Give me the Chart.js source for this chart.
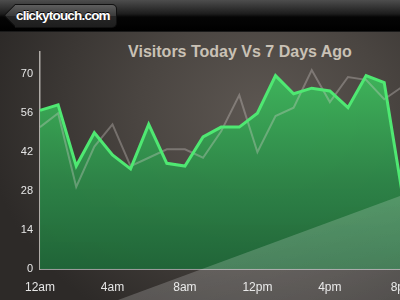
<!DOCTYPE html>
<html>
<head>
<meta charset="utf-8">
<script src="https://cdn.jsdelivr.net/npm/chart.js@4/dist/chart.umd.min.js"></script>
<style>
  html, body { margin: 0; padding: 0; }
  body { width: 400px; height: 300px; overflow: hidden; position: relative;
    font-family: "Liberation Sans", Arial, sans-serif;
    background: radial-gradient(ellipse 70% 80% at 66% 38%, #5d5752 0%, #4a4541 45%, #2d2a28 100%); }
  #bar { position: absolute; left: 0; top: 0; width: 400px; height: 31px;
    background: linear-gradient(#4d4d4d 0%, #1c1c1c 45%, #050505 55%, #000 100%);
    border-bottom: 1px solid #1a1a1a; }
  #back { position: absolute; left: 15px; top: 4px; width: 101px; height: 22px;
    border-radius: 0 5px 5px 0; border: 1px solid #111; border-left: none;
    background: linear-gradient(#5e5e5e 0%, #3a3a3a 50%, #262626 51%, #1e1e1e 100%);
    color: #fff; font-weight: bold; font-size: 13.5px; letter-spacing: -0.8px; line-height: 22px; }
  #arrow { position: absolute; left: 7px; top: 7px; width: 15.5px; height: 15.5px;
    transform: rotate(45deg); border: 1px solid #111; border-right: none; border-top: none;
    border-radius: 0 0 0 3px;
    background: linear-gradient(135deg, #5e5e5e 0%, #3a3a3a 50%, #262626 51%, #1e1e1e 100%); }
  #back span { position: absolute; left: 1px; top: 0; text-shadow: 0 -1px 0 #000; }
  #title { position: absolute; left: 0; width: 480px; top: 43px; text-align: center;
    color: #c9c1b5; font-weight: bold; font-size: 16px; }
  #wrap { position: absolute; left: 0; top: 32px; width: 425px; height: 268px; }
  #glare { position: absolute; left: 0; top: 0; width: 400px; height: 300px; pointer-events: none;
    clip-path: polygon(118px 300px, 400px 196px, 400px 300px);
    background: linear-gradient(160deg, rgba(255,255,255,0.30), rgba(255,255,255,0.16)); }
</style>
</head>
<body>
<div id="bar"><div id="arrow"></div><div id="back"><span>clickytouch.com</span></div></div>
<div id="title">Visitors Today Vs 7 Days Ago</div>
<div id="wrap"><canvas id="chart" width="425" height="268"></canvas></div>
<div id="glare"></div>
<script>
const hours = ['12am', '1am', '2am', '3am', '4am', '5am', '6am', '7am', '8am', '9am', '10am', '11am',
  '12pm', '1pm', '2pm', '3pm', '4pm', '5pm', '6pm', '7pm', '8pm']
const today = [57, 59, 37, 49, 41, 36, 52, 38, 37, 47.5, 51, 51, 56, 69.5, 63, 65, 64, 58, 69.5, 67, 27]
const weekAgo = [51, 56, 29.5, 44, 52, 37, 40, 43, 43, 40, 49.5, 62.5, 42, 55, 58, 71.5, 60, 69, 68, 61, 65.5]
const yTicks = [0, 14, 28, 42, 56, 70]

const ctx = document.getElementById('chart').getContext('2d')

new Chart(ctx, {
  type: 'line',
  data: {
    labels: hours,
    datasets: [{
      label: 'Today',
      data: today,
      borderColor: '#4fe872',
      borderWidth: 3,
      pointRadius: 0,
      tension: 0,
      fill: 'origin',
      backgroundColor: (c) => {
        const area = c.chart.chartArea
        if (!area) return 'rgba(50,150,80,0.95)'
        const g = c.chart.ctx.createLinearGradient(0, area.top + 20, 0, area.bottom)
        g.addColorStop(0, 'rgba(62,186,92,0.95)')
        g.addColorStop(0.55, 'rgba(45,135,72,0.95)')
        g.addColorStop(1, 'rgba(32,102,56,0.97)')
        return g
      }
    }, {
      label: '7 Days Ago',
      data: weekAgo,
      borderColor: 'rgba(215,210,205,0.33)',
      borderWidth: 2,
      pointRadius: 0,
      tension: 0,
      fill: false
    }]
  },
  options: {
    responsive: false,
    animation: false,
    layout: { padding: { top: 20, right: 20, left: 0, bottom: 0 } },
    plugins: {
      legend: { display: false },
      tooltip: { enabled: false },
      filler: { drawTime: 'beforeDatasetsDraw' }
    },
    scales: {
      x: {
        grid: { display: false, drawTicks: false },
        border: { display: true, color: '#9a9a9a', width: 2 },
        afterFit: (s) => { s.height = 31 },
        ticks: {
          autoSkip: false,
          maxRotation: 0,
          padding: 11,
          color: '#e6e6e6',
          font: { family: 'Liberation Sans', size: 12 },
          callback: function (v, i) { return i % 4 === 0 ? hours[i] : null }
        }
      },
      y: {
        min: 0,
        max: 78,
        grid: { display: false, drawTicks: false },
        border: { display: true, color: '#b0aca8', width: 1.5 },
        afterFit: (s) => { s.width = 40 },
        afterBuildTicks: (s) => { s.ticks = yTicks.map(v => ({ value: v })) },
        ticks: {
          padding: 7,
          color: '#e6e6e6',
          font: { family: 'Liberation Sans', size: 11 }
        }
      }
    }
  }
})
</script>
</body>
</html>
